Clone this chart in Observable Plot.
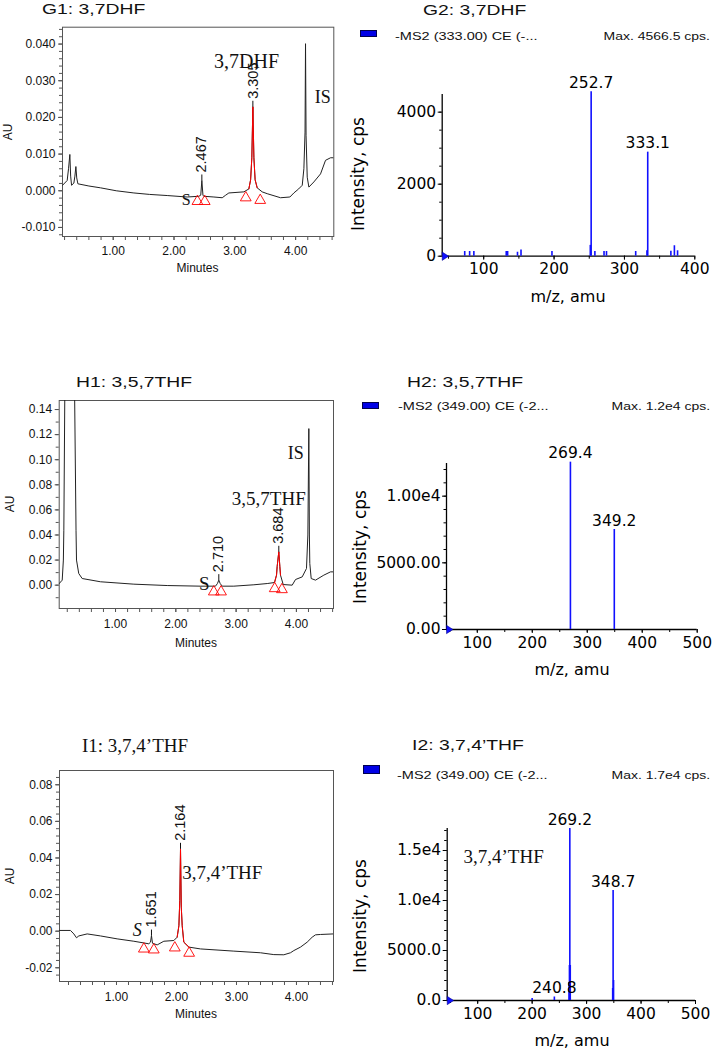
<!DOCTYPE html>
<html>
<head>
<meta charset="utf-8">
<script src="https://cdn.jsdelivr.net/npm/d3@7"></script>
<script src="https://cdn.jsdelivr.net/npm/@observablehq/plot@0.6"></script>
<style>
  html, body { margin: 0; padding: 0; background: #fff; }
  #root { position: relative; width: 713px; height: 1050px; overflow: hidden; background: #fff; color: #000; }
  .abs { position: absolute; white-space: nowrap; line-height: 1; }
  .sans-title { font-family: "Liberation Sans", Arial, sans-serif; font-size: 15px; transform: scaleX(1.29); transform-origin: 0 0; color: #111; }
  .serif-title { font-family: "Liberation Serif", "Times New Roman", serif; font-size: 19px; color: #111; }
  .legend-text { font-family: "Liberation Sans", Arial, sans-serif; font-size: 10.5px; transform: scaleX(1.38); transform-origin: 0 0; color: #111; }
  .legend-max { font-family: "Liberation Sans", Arial, sans-serif; font-size: 10.5px; transform: scaleX(1.33); transform-origin: 100% 0; color: #111; }
  .legend-box { background: #0000e6; border: 1px solid #000050; box-sizing: border-box; }
  .rot { transform: translate(-50%, -50%) rotate(-90deg); }
  .ctr { transform: translate(-50%, -50%); }
  .chrom-label { font-family: "Liberation Sans", Arial, sans-serif; font-size: 12px; color: #111; }
  .spec-label { font-family: "DejaVu Sans", sans-serif; color: #000; }
</style>
</head>
<body>
<div id="root"></div>
<script>
// ================= DATA =================
// ---- shared chromatogram x ticks ----
const chromXTicks = [1, 2, 3, 4];
const chromXLabels = ["1.00", "2.00", "3.00", "4.00"];

// ---- G1: 3,7DHF chromatogram (minutes, AU) ----
const g1Time = [0.167, 0.243, 0.265, 0.287, 0.300, 0.315, 0.353, 0.370, 0.386, 0.400, 0.419, 0.600, 0.792, 1.050, 1.340, 1.600, 1.888, 2.217, 2.409, 2.440, 2.458, 2.476, 2.491, 2.656, 2.793, 2.850, 2.902, 3.149, 3.231, 3.260, 3.280, 3.297, 3.314, 3.334, 3.368, 3.450, 3.533, 3.752, 3.906, 3.971, 4.050, 4.109, 4.136, 4.155, 4.163, 4.172, 4.191, 4.218, 4.300, 4.410, 4.492, 4.575, 4.628];
const g1AU = [0.0015, 0.0028, 0.0060, 0.0099, 0.0040, 0.0015, 0.0021, 0.0040, 0.0066, 0.0035, 0.0019, 0.0013, 0.0008, 0.0000, -0.0006, -0.0010, -0.0013, -0.0017, -0.0015, -0.0012, 0.0028, -0.0012, -0.0015, -0.0017, -0.0019, -0.0012, -0.0006, -0.0003, 0.0005, 0.0030, 0.0090, 0.0229, 0.0090, 0.0030, 0.0008, -0.0003, -0.0008, -0.0019, -0.0017, -0.0006, 0.0005, 0.0015, 0.0060, 0.0160, 0.0401, 0.0150, 0.0037, 0.0010, 0.0024, 0.0046, 0.0083, 0.0090, 0.0090];
const g1RedRange = [3.18, 3.42];
const g1TriTime = [2.385, 2.505, 3.180, 3.418];
const g1TriAU = [-0.0029, -0.0029, -0.0019, -0.0026];
const g1PeakTime = [2.458, 3.297];
const g1PeakAU = [0.0028, 0.0229];
const g1PeakLabels = ["2.467", "3.305"];
const g1NoteText = ["3,7DHF", "IS", "S"];
const g1NoteTime = [3.193, 4.448, 2.200];
const g1NoteAU = [0.0351, 0.0254, -0.0024];
const g1YTicks = [-0.01, 0, 0.01, 0.02, 0.03, 0.04];
const g1YLabels = ["-0.010", "0.000", "0.010", "0.020", "0.030", "0.040"];

// ---- H1: 3,5,7THF chromatogram ----
const h1Time = [0.066, 0.116, 0.135, 0.143, 0.160, 0.320, 0.345, 0.353, 0.390, 0.447, 0.751, 1.304, 1.857, 2.410, 2.658, 2.690, 2.713, 2.736, 2.769, 2.962, 3.294, 3.516, 3.637, 3.670, 3.681, 3.708, 3.725, 3.736, 3.781, 3.930, 3.985, 4.096, 4.167, 4.190, 4.206, 4.215, 4.222, 4.245, 4.317, 4.455, 4.566, 4.615];
const h1AU = [0.0013, 0.0040, 0.0200, 0.0438, 0.1600, 0.1600, 0.0438, 0.0200, 0.0093, 0.0053, 0.0027, 0.0008, -0.0003, -0.0008, -0.0008, 0.0013, 0.0040, 0.0013, -0.0008, -0.0008, 0.0003, 0.0013, 0.0021, 0.0080, 0.0150, 0.0266, 0.0150, 0.0080, 0.0005, 0.0000, 0.0045, 0.0066, 0.0133, 0.0400, 0.1248, 0.0400, 0.0173, 0.0053, 0.0040, 0.0080, 0.0106, 0.0106];
const h1RedRange = [3.62, 3.78];
const h1TriTime = [2.630, 2.750, 3.640, 3.760];
const h1TriAU = [-0.0053, -0.0053, -0.0027, -0.0035];
const h1PeakTime = [2.713, 3.708];
const h1PeakAU = [0.0040, 0.0266];
const h1PeakLabels = ["2.710", "3.684"];
const h1NoteText = ["IS", "3,5,7THF", "S"];
const h1NoteTime = [3.990, 3.542, 2.471];
const h1NoteAU = [0.1054, 0.0690, 0.0008];
const h1YTicks = [0, 0.02, 0.04, 0.06, 0.08, 0.10, 0.12, 0.14];
const h1YLabels = ["0.00", "0.02", "0.04", "0.06", "0.08", "0.10", "0.12", "0.14"];

// ---- I1: 3,7,4'THF chromatogram ----
const i1Time = [0.050, 0.233, 0.289, 0.333, 0.372, 0.511, 0.733, 1.011, 1.289, 1.539, 1.567, 1.583, 1.600, 1.678, 1.789, 1.956, 2.011, 2.040, 2.055, 2.067, 2.080, 2.095, 2.122, 2.206, 2.400, 2.956, 3.400, 3.622, 3.789, 3.900, 3.956, 4.067, 4.178, 4.261, 4.317, 4.400, 4.617];
const i1AU = [0.0004, 0.0004, -0.0015, -0.0036, -0.0026, -0.0015, -0.0026, -0.0042, -0.0055, -0.0069, -0.0060, -0.0024, -0.0066, -0.0075, -0.0055, -0.0051, -0.0033, 0.0030, 0.0168, 0.0450, 0.0131, 0.0030, -0.0060, -0.0087, -0.0097, -0.0109, -0.0118, -0.0128, -0.0129, -0.0118, -0.0106, -0.0087, -0.0060, -0.0033, -0.0020, -0.0018, -0.0015];
const i1RedRange = [1.97, 2.22];
const i1TriTime = [1.456, 1.622, 1.972, 2.211];
const i1TriAU = [-0.0097, -0.0102, -0.0091, -0.0120];
const i1PeakTime = [1.583, 2.067];
const i1PeakAU = [-0.0024, 0.0450];
const i1PeakLabels = ["1.651", "2.164"];
const i1NoteText = ["3,7,4\u2019THF", "S"];
const i1NoteTime = [2.095, 1.344];
const i1NoteAU = [0.0317, 0.0007];
const i1YTicks = [-0.02, 0, 0.02, 0.04, 0.06, 0.08];
const i1YLabels = ["-0.02", "0.00", "0.02", "0.04", "0.06", "0.08"];

// ---- G2: MS2 spectrum of 3,7DHF (m/z, cps) ----
const g2Mz = [73, 80, 86, 132, 134, 148, 153, 197, 251.5, 252.7, 258, 271, 274.5, 316, 332, 333.1, 366, 371, 375.5];
const g2Int = [130, 130, 130, 130, 130, 110, 170, 130, 300, 4566, 130, 130, 130, 130, 150, 2889, 140, 290, 150];
const g2LabelMz = [252.7, 333.1];
const g2LabelInt = [4566, 2889];
const g2LabelText = ["252.7", "333.1"];
const g2XTicks = [100, 200, 300, 400];
const g2YTicks = [0, 2000, 4000];
const g2YLabels = ["0", "2000", "4000"];
const g2Legend = "-MS2 (333.00) CE (-...";
const g2Max = "Max. 4566.5 cps.";

// ---- H2: MS2 spectrum of 3,5,7THF ----
const h2Mz = [269.4, 349.2];
const h2Int = [12550, 7500];
const h2LabelMz = [269.4, 349.2];
const h2LabelInt = [12550, 7500];
const h2LabelText = ["269.4", "349.2"];
const h2XTicks = [100, 200, 300, 400, 500];
const h2YTicks = [0, 5000, 10000];
const h2YLabels = ["0.00", "5000.00", "1.00e4"];
const h2Legend = "-MS2 (349.00) CE (-2...";
const h2Max = "Max. 1.2e4 cps.";

// ---- I2: MS2 spectrum of 3,7,4'THF ----
const i2Mz = [200, 240.8, 267.8, 268.5, 269.2, 270.0, 347.9, 348.7, 349.5];
const i2Int = [200, 350, 1800, 3500, 17200, 3500, 1200, 11000, 2000];
const i2LabelMz = [269.2, 348.7, 240.8];
const i2LabelInt = [17200, 11000, 350];
const i2LabelText = ["269.2", "348.7", "240.8"];
const i2NoteText = ["3,7,4\u2019THF"];
const i2NoteMz = [73.9];
const i2NoteInt = [14330];
const i2XTicks = [100, 200, 300, 400, 500];
const i2YTicks = [0, 5000, 10000, 15000];
const i2YLabels = ["0.0", "5000.0", "1.0e4", "1.5e4"];
const i2Legend = "-MS2 (349.00) CE (-2...";
const i2Max = "Max. 1.7e4 cps.";

// ================= DRAWING =================
const root = document.getElementById("root");
const SANS = "'Liberation Sans', Arial, sans-serif";
const SERIF = "'Liberation Serif', 'Times New Roman', serif";
const DEJAVU = "'DejaVu Sans', sans-serif";

const leader = { draw(ctx) { ctx.moveTo(0, 0); ctx.lineTo(0, -6); } };
const rightTri = { draw(ctx) { ctx.moveTo(0, -4.2); ctx.lineTo(6.5, 0); ctx.lineTo(0, 4.2); ctx.closePath(); } };

function place(node, left, top, width) {
  const wrap = document.createElement("div");
  wrap.className = "abs";
  wrap.style.left = left + "px";
  wrap.style.top = top + "px";
  wrap.style.width = width + "px";
  wrap.appendChild(node);
  root.appendChild(wrap);
}
function text(str, cls, left, top, extra) {
  const el = document.createElement("div");
  el.className = "abs " + cls;
  if (left !== null) el.style.left = left + "px";
  el.style.top = top + "px";
  if (extra) Object.assign(el.style, extra);
  el.textContent = str;
  root.appendChild(el);
  return el;
}
function lookup(ticks, labels) { return (d) => labels[ticks.indexOf(d)] ?? ""; }

function chromPlot(d, L) {
  const trace = d.time.map((t, i) => ({t, au: d.au[i]}));
  const red = trace.filter(p => p.t >= d.red[0] && p.t <= d.red[1]);
  const tri = d.triTime.map((t, i) => ({t, au: d.triAU[i]}));
  const peaks = d.peakTime.map((t, i) => ({t, au: d.peakAU[i], label: d.peakLabels[i]}));
  const notes = d.noteText.map((s, i) => Plot.text([{t: d.noteTime[i], au: d.noteAU[i], s}], {
    x: "t", y: "au", text: "s", fontFamily: SERIF, fontSize: L.noteSize[i],
    fontStyle: L.noteStyle[i], textAnchor: L.noteAnchor[i], lineAnchor: "middle", fill: "#111"
  }));
  const minorX = d3.range(0.2, L.xDomain[1], 0.2);
  const minorY = d3.range(L.minorY[0], L.yDomain[1], L.minorY[1]);
  return Plot.plot({
    width: L.w, height: L.h,
    marginTop: L.mt, marginRight: L.mr, marginBottom: L.mb, marginLeft: L.ml,
    style: `background: transparent; font-family: ${SANS}; font-size: 12px; color: #111;`,
    x: {domain: L.xDomain, axis: null},
    y: {domain: L.yDomain, axis: null},
    marks: [
      Plot.axisX({ticks: minorX, tickSize: 4, tickFormat: () => "", stroke: "#555", label: null}),
      Plot.axisX({ticks: chromXTicks, tickSize: 4, tickPadding: L.xPad, tickFormat: lookup(chromXTicks, chromXLabels), stroke: "#555", fill: "#111", label: null}),
      Plot.axisY({ticks: minorY, tickSize: 3, tickFormat: () => "", stroke: "#555", label: null}),
      Plot.axisY({ticks: d.yTicks, tickSize: 4, tickPadding: 3, tickFormat: lookup(d.yTicks, d.yLabels), stroke: "#555", fill: "#111", label: null}),
      Plot.frame({stroke: "#555"}),
      Plot.line(trace, {x: "t", y: "au", stroke: "#222", strokeWidth: 1, clip: true}),
      Plot.line(red, {x: "t", y: "au", stroke: "#ff0000", strokeWidth: 1, clip: true}),
      Plot.dot(tri, {x: "t", y: "au", symbol: "triangle", r: 4, stroke: "#ff0000", fill: "none", strokeWidth: 0.9}),
      Plot.dot(peaks, {x: "t", y: "au", symbol: leader, r: 2, stroke: "#111", fill: "none", strokeWidth: 1}),
      Plot.text(peaks, {x: "t", y: "au", text: "label", rotate: -90, textAnchor: "start", lineAnchor: "middle", dy: -8, fontSize: 14.5, fontFamily: SANS, fill: "#111"}),
      ...notes
    ]
  });
}

function specPlot(d, L) {
  const bars = d.mz.map((m, i) => ({mz: m, v: d.int[i]}));
  const labels = d.labelMz.map((m, i) => ({mz: m, v: d.labelInt[i], s: d.labelText[i]}));
  const origin = [{mz: L.xDomain[0], v: 0}];
  const minorX = d3.range(50, L.xDomain[1] + 1, 50);
  const minorY = d3.range(0, L.yDomain[1], L.minorYStep);
  const notes = (d.noteText || []).map((s, i) => Plot.text([{mz: d.noteMz[i], v: d.noteInt[i], s}], {
    x: "mz", y: "v", text: "s", fontFamily: SERIF, fontSize: 19, textAnchor: "start", lineAnchor: "middle", fill: "#111"
  }));
  return Plot.plot({
    width: L.w, height: L.h,
    marginTop: L.mt, marginRight: L.mr, marginBottom: L.mb, marginLeft: L.ml,
    style: `background: transparent; font-family: ${DEJAVU}; font-size: 15.5px; color: #000;`,
    x: {domain: L.xDomain, axis: null},
    y: {domain: L.yDomain, axis: null},
    marks: [
      Plot.axisX({ticks: minorX, tickSize: 3, tickFormat: () => "", stroke: "#000", label: null}),
      Plot.axisX({ticks: d.xTicks, tickSize: 4, tickPadding: 3, tickFormat: (v) => String(v), stroke: "#000", fill: "#000", label: null}),
      Plot.axisY({ticks: minorY, tickSize: 2.5, tickFormat: () => "", stroke: "#000", label: null}),
      Plot.axisY({ticks: d.yTicks, tickSize: 4, tickPadding: 2, tickFormat: lookup(d.yTicks, d.yLabels), stroke: "#000", fill: "#000", label: null}),
      Plot.ruleY([0], {stroke: "#000", strokeWidth: 1.3}),
      Plot.ruleX([L.xDomain[0]], {stroke: "#000", strokeWidth: 1.3}),
      Plot.ruleX(bars, {x: "mz", y1: 0, y2: "v", stroke: "#1010ff", strokeWidth: 1.6}),
      Plot.dot(origin, {x: "mz", y: "v", symbol: rightTri, r: 2, fill: "#1010ff", stroke: "#000080", strokeWidth: 0.5}),
      Plot.text(labels, {x: "mz", y: "v", text: "s", dy: -4, lineAnchor: "bottom", fontSize: 15.5, fontFamily: DEJAVU, fill: "#000"}),
      ...notes
    ]
  });
}

// ---------- chromatograms ----------
const G1L = {left: 0, top: 0, w: 340, h: 285, mt: 26.7, mr: 6.7, mb: 49, ml: 62, xDomain: [0.166, 4.628], yDomain: [-0.01247, 0.0446], minorY: [-0.012, 0.002], xPad: 6,
  noteSize: [20, 18, 16], noteStyle: ["normal", "normal", "normal"], noteAnchor: ["middle", "middle", "middle"]};
const H1L = {left: 0, top: 360, w: 340, h: 300, mt: 40, mr: 7, mb: 52, ml: 58.7, xDomain: [0.066, 4.615], yDomain: [-0.0186, 0.1472], minorY: [-0.01, 0.01], xPad: 7,
  noteSize: [18, 19, 19], noteStyle: ["normal", "normal", "normal"], noteAnchor: ["middle", "middle", "middle"]};
const I1L = {left: 0, top: 730, w: 340, h: 300, mt: 40, mr: 7, mb: 49, ml: 59, xDomain: [0.05, 4.617], yDomain: [-0.0275, 0.0878], minorY: [-0.024, 0.004], xPad: 7,
  noteSize: [19, 18], noteStyle: ["normal", "italic"], noteAnchor: ["start", "middle"]};

const chroms = [
  [{time: g1Time, au: g1AU, red: g1RedRange, triTime: g1TriTime, triAU: g1TriAU, peakTime: g1PeakTime, peakAU: g1PeakAU, peakLabels: g1PeakLabels, noteText: g1NoteText, noteTime: g1NoteTime, noteAU: g1NoteAU, yTicks: g1YTicks, yLabels: g1YLabels}, G1L],
  [{time: h1Time, au: h1AU, red: h1RedRange, triTime: h1TriTime, triAU: h1TriAU, peakTime: h1PeakTime, peakAU: h1PeakAU, peakLabels: h1PeakLabels, noteText: h1NoteText, noteTime: h1NoteTime, noteAU: h1NoteAU, yTicks: h1YTicks, yLabels: h1YLabels}, H1L],
  [{time: i1Time, au: i1AU, red: i1RedRange, triTime: i1TriTime, triAU: i1TriAU, peakTime: i1PeakTime, peakAU: i1PeakAU, peakLabels: i1PeakLabels, noteText: i1NoteText, noteTime: i1NoteTime, noteAU: i1NoteAU, yTicks: i1YTicks, yLabels: i1YLabels}, I1L]
];
for (const [d, L] of chroms) place(chromPlot(d, L), L.left, L.top, L.w);

// ---------- spectra ----------
const G2L = {left: 340, top: 50, w: 373, h: 240, mt: 44, mr: 18.7, mb: 34.3, ml: 101.7, xDomain: [41, 400], yDomain: [0, 4490], minorYStep: 500};
const H2L = {left: 340, top: 420, w: 373, h: 240, mt: 43, mr: 16.3, mb: 31, ml: 106, xDomain: [44, 500], yDomain: [0, 12450], minorYStep: 1000};
const I2L = {left: 340, top: 790, w: 373, h: 240, mt: 38, mr: 18, mb: 30, ml: 106.7, xDomain: [44, 500], yDomain: [0, 17200], minorYStep: 1000};
place(specPlot({mz: g2Mz, int: g2Int, labelMz: g2LabelMz, labelInt: g2LabelInt, labelText: g2LabelText, xTicks: g2XTicks, yTicks: g2YTicks, yLabels: g2YLabels}, G2L), G2L.left, G2L.top, G2L.w);
place(specPlot({mz: h2Mz, int: h2Int, labelMz: h2LabelMz, labelInt: h2LabelInt, labelText: h2LabelText, xTicks: h2XTicks, yTicks: h2YTicks, yLabels: h2YLabels}, H2L), H2L.left, H2L.top, H2L.w);
place(specPlot({mz: i2Mz, int: i2Int, labelMz: i2LabelMz, labelInt: i2LabelInt, labelText: i2LabelText, noteText: i2NoteText, noteMz: i2NoteMz, noteInt: i2NoteInt, xTicks: i2XTicks, yTicks: i2YTicks, yLabels: i2YLabels}, I2L), I2L.left, I2L.top, I2L.w);

// ---------- titles ----------
text("G1: 3,7DHF", "sans-title", 42, 1.4);
text("G2: 3,7DHF", "sans-title", 423, 2.4);
text("H1: 3,5,7THF", "sans-title", 76, 374.4);
text("H2: 3,5,7THF", "sans-title", 407, 374);
text("I1: 3,7,4\u2019THF", "serif-title", 82, 736);
text("I2: 3,7,4\u2019THF", "sans-title", 412, 737.4);

// ---------- legends ----------
const legends = [[g2Legend, g2Max, 360, 30, 7.3, 395, 30.5], [h2Legend, h2Max, 362, 401.5, 7, 398, 401.2], [i2Legend, i2Max, 363, 765, 8.5, 397, 769.5]];
for (const [lab, mx, bx, by, bh, tx, ty] of legends) {
  text("", "legend-box", bx, by, {width: "17px", height: bh + "px"});
  text(lab, "legend-text", tx, ty);
  text(mx, "legend-max", null, ty, {right: "3px"});
}

// ---------- axis titles ----------
for (const [x, y] of [[7.5, 131.5], [10, 504], [10, 876]]) text("AU", "chrom-label rot", x, y);
for (const [x, y] of [[197.5, 268], [196, 643], [196, 1014]]) text("Minutes", "chrom-label ctr", x, y);
for (const [x, y] of [[358, 174], [360, 547], [360, 916]]) text("Intensity, cps", "spec-label rot", x, y, {fontSize: "17px"});
for (const [x, y] of [[568, 297], [572, 670], [572, 1041]]) text("m/z, amu", "spec-label ctr", x, y, {fontSize: "16px"});
</script>
</body>
</html>
